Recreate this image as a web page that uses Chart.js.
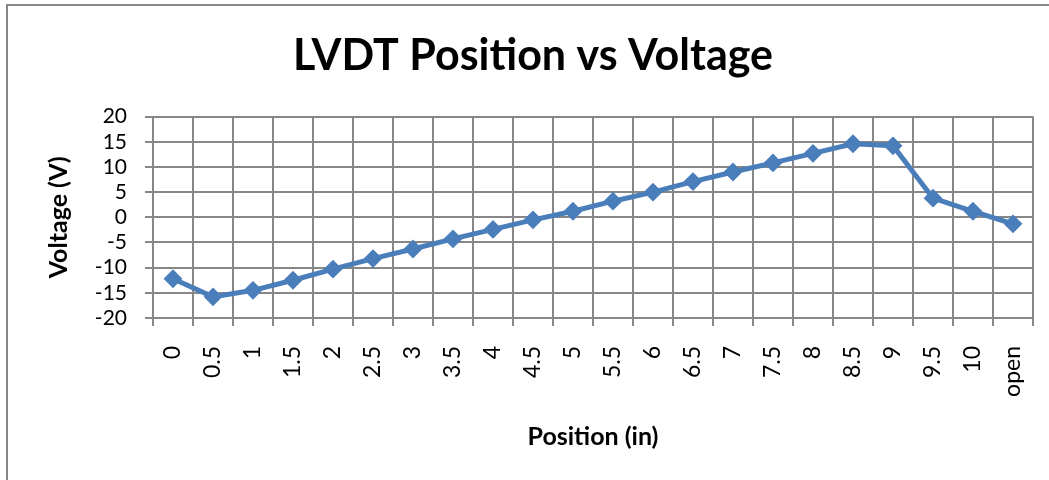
<!DOCTYPE html>
<html>
<head>
<meta charset="utf-8">
<script src="https://cdn.jsdelivr.net/npm/chart.js@4"></script>
<style>
  html, body { margin: 0; padding: 0; background: #fff; overflow: hidden; }
  #wrap { position: relative; width: 1049px; height: 480px; }
  #frame { position: absolute; left: 6px; top: 4px; width: 1100px; height: 600px; border: 2px solid #878787; box-sizing: border-box; }
  canvas { position: absolute; left: 0; top: 0; }
</style>
</head>
<body>
<div id="wrap">
  <div id="frame"></div>
  <canvas id="c" width="1049" height="480"></canvas>
</div>
<script>
const categories = ["0","0.5","1","1.5","2","2.5","3","3.5","4","4.5","5","5.5","6","6.5","7","7.5","8","8.5","9","9.5","10","open"];
const voltage = [-12.2, -15.8, -14.5, -12.5, -10.3, -8.2, -6.3, -4.3, -2.4, -0.5, 1.2, 3.2, 5.0, 7.1, 9.0, 10.8, 12.7, 14.6, 14.2, 3.8, 1.2, -1.3];
const yMin = -20, yMax = 20, yStep = 5;

const gridColor = '#878787';
const blue = '#4A7EBB';

new Chart(document.getElementById('c'), {
  type: 'line',
  data: {
    labels: categories,
    datasets: [{
      data: voltage,
      borderColor: blue,
      backgroundColor: blue,
      borderWidth: 5,
      tension: 0,
      pointStyle: 'rectRot',
      pointRadius: 8,
      pointBackgroundColor: blue,
      pointBorderColor: blue,
      pointBorderWidth: 2
    }]
  },
  options: {
    responsive: false,
    animation: false,
    devicePixelRatio: 1,
    layout: { padding: { left: 33, right: 16, top: 0, bottom: 0 } },
    plugins: {
      legend: { display: false },
      tooltip: { enabled: false },
      title: {
        display: true,
        text: 'LVDT Position vs Voltage',
        color: '#000',
        font: { family: 'Lato', size: 43, weight: 'bold', lineHeight: 1.2 },
        padding: { top: 30, bottom: 35 }
      }
    },
    scales: {
      x: {
        type: 'category',
        offset: true,
        afterFit: (s) => { s.height = 162; s.paddingLeft = 0; s.paddingRight = 0; },
        grid: { offset: true, color: gridColor, lineWidth: 2, tickLength: 8, drawTicks: true },
        border: { display: true, color: gridColor, width: 2 },
        ticks: {
          autoSkip: false, minRotation: 90, maxRotation: 90,
          color: '#000', padding: 20,
          font: { family: 'Lato', size: 23 }
        },
        title: {
          display: true, text: 'Position (in)', color: '#000',
          font: { family: 'Lato', size: 25, weight: 'bold', lineHeight: 1.2 },
          padding: { top: 0, bottom: 28 }
        }
      },
      y: {
        min: yMin, max: yMax,
        afterFit: (s) => { s.width = 120; s.paddingTop = 0; s.paddingBottom = 0; },
        grid: { color: gridColor, lineWidth: 2, tickLength: 8 },
        border: { display: true, color: gridColor, width: 2 },
        ticks: {
          stepSize: yStep, color: '#000', padding: 18, autoSkip: false,
          font: { family: 'Lato', size: 21, lineHeight: 1 }
        },
        title: {
          display: true, text: 'Voltage (V)', color: '#000',
          font: { family: 'Lato', size: 25, weight: 'bold', lineHeight: 1.2 },
          padding: { top: 11, bottom: 0 }
        }
      }
    }
  }
});
</script>
</body>
</html>
